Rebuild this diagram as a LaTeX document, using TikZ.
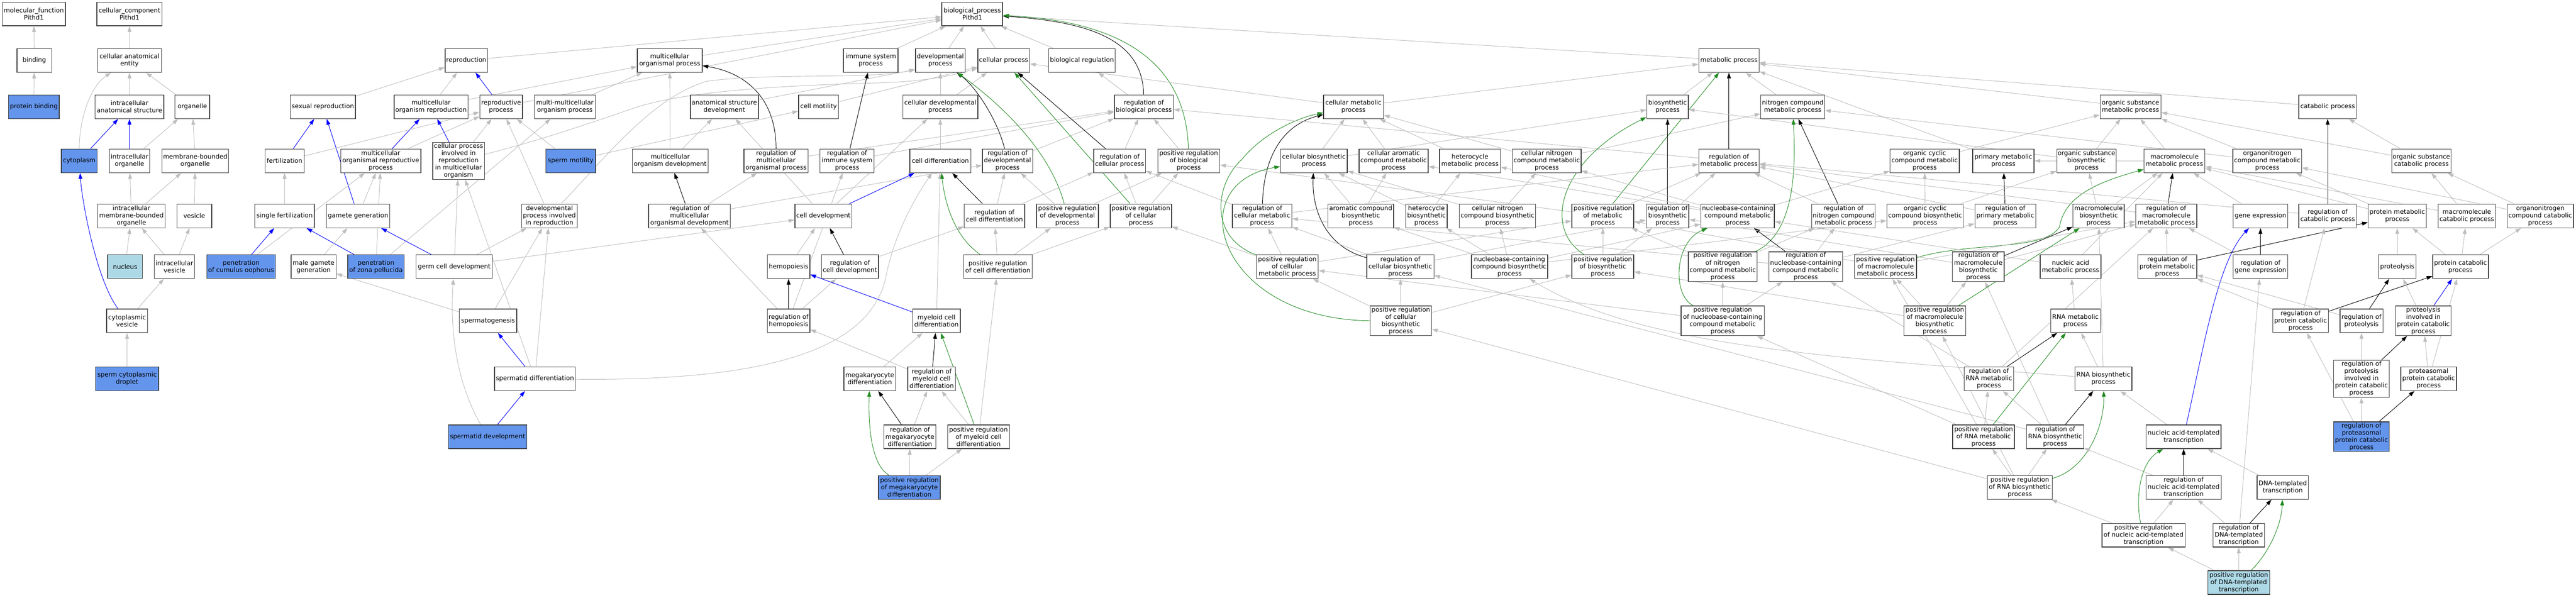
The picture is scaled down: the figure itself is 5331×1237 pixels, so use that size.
\documentclass[tikz,border=0pt]{standalone}
\usepackage{fontspec}
\setmainfont{DejaVu Sans}
\usetikzlibrary{arrows.meta}
\definecolor{edgegray}{RGB}{190,190,190}
\definecolor{boxline}{RGB}{64,64,64}
\definecolor{hiblue}{RGB}{100,149,237}
\definecolor{lightb}{RGB}{173,216,230}
\definecolor{posgreen}{RGB}{34,139,34}
\pgfdeclarelayer{bg}
\pgfsetlayers{bg,main}
\tikzset{
 gobox/.style={draw=boxline, line width=1.5pt, fill=white, rectangle, align=center, inner xsep=2pt, inner ysep=2pt, minimum height=49pt, font=\fontsize{13pt}{15pt}\selectfont},
 hib/.style={gobox, fill=hiblue},
 lob/.style={gobox, fill=lightb},
 isa/.style={draw=edgegray, line width=1pt, -{Triangle[length=12pt,width=8pt]}},
 partof/.style={isa, draw=blue},
 regl/.style={isa, draw=black},
 posr/.style={isa, draw=posgreen},
}
\newcommand\N[5][gobox]{\node[#1, minimum width=#4pt] (#2) at (#3) {#5};}
\newcommand\E[3][isa]{\draw[#1] (#2) -- (#3);}
\begin{document}
\begin{tikzpicture}[x=1pt,y=-1pt]
\begin{pgfonlayer}{bg}
\fill[white] (0,0) rectangle (5331,1237);
\end{pgfonlayer}
\useasboundingbox (0,0) rectangle (5331,1237);
% row 29
\N{mf}{70,29}{131}{molecular\_function\\Pithd1}
\N{cc}{268,29}{135}{cellular\_component\\Pithd1}
\N{bp}{2012,29}{126}{biological\_process\\Pithd1}
% row 125
\N{bind}{71,125}{72}{binding}
\N{cae}{268,125}{132}{cellular anatomical\\entity}
\N{repro}{965,125}{88}{reproduction}
\N{mop}{1386,125}{134}{multicellular\\organismal process}
\N{isp}{1802,125}{113}{immune system\\process}
\N{devp}{1946,125}{103}{developmental\\process}
\N{cellp}{2077,125}{107}{cellular process}
\N{bioreg}{2239,125}{138}{biological regulation}
\N{metab}{3578,125}{125}{metabolic process}
% row 221
\N[hib]{pbind}{70,221}{105}{protein binding}
\N{ias}{268,221}{142}{intracellular\\anatomical structure}
\N{orgn}{398,221}{72}{organelle}
\N{sexrep}{668,221}{135}{sexual reproduction}
\N{mor}{892,221}{153}{multicellular\\organism reproduction}
\N{repp}{1037,221}{88}{reproductive\\process}
\N{mmop}{1169,221}{126}{multi-multicellular\\organism process}
\N{asd}{1499,221}{141}{anatomical structure\\development}
\N{cmot}{1694,221}{83}{cell motility}
\N{cdp}{1946,221}{155}{cellular developmental\\process}
\N{rbp}{2367,221}{122}{regulation of\\biological process}
\N{cmp}{2801,221}{124}{cellular metabolic\\process}
\N{bsp}{3451,221}{86}{biosynthetic\\process}
\N{ncmp}{3710,221}{132}{nitrogen compound\\metabolic process}
\N{osmp}{4409,221}{126}{organic substance\\metabolic process}
\N{catp}{4817,221}{119}{catabolic process}
% row 333
\N[hib]{cyto}{164,333}{74}{cytoplasm}
\N{io}{268,333}{83}{intracellular\\organelle}
\N{mbo}{404,333}{138}{membrane-bounded\\organelle}
\N{fert}{589,333}{81}{fertilization}
\N{morp}{788,333}{166}{multicellular\\organismal reproductive\\process}
\N{cpir}{949,333}{107}{cellular process\\involved in\\reproduction\\in multicellular\\organism}
\N[hib]{smot}{1181,333}{103}{sperm motility}
\N{mod}{1387,333}{157}{multicellular\\organism development}
\N{rmop}{1606,333}{133}{regulation of\\multicellular\\organismal process}
\N{risp}{1753,333}{112}{regulation of\\immune system\\process}
\N{cdiff}{1946,333}{126}{cell differentiation}
\N{rdp}{2085,333}{104}{regulation of\\developmental\\process}
\N{rcp}{2317,333}{107}{regulation of\\cellular process}
\N{prbp}{2460,333}{128}{positive regulation\\of biological\\process}
\N{cbp}{2719,333}{138}{cellular biosynthetic\\process}
\N{camp}{2884,333}{143}{cellular aromatic\\compound metabolic\\process}
\N{hmp}{3042,333}{126}{heterocycle\\metabolic process}
\N{cncmp}{3201,333}{142}{cellular nitrogen\\compound metabolic\\process}
\N{rmp}{3578,333}{125}{regulation of\\metabolic process}
\N{occmp}{3983,333}{143}{organic cyclic\\compound metabolic\\process}
\N{pmp}{4146,333}{127}{primary metabolic\\process}
\N{osbp}{4318,333}{123}{organic substance\\biosynthetic\\process}
\N{mmp}{4500,333}{126}{macromolecule\\metabolic process}
\N{oncmp}{4692,333}{142}{organonitrogen\\compound metabolic\\process}
\N{oscp}{5011,333}{123}{organic substance\\catabolic process}
% row 447
\N{imbo}{272,447}{140}{intracellular\\membrane-bounded\\organelle}
\N{ves}{402,447}{72}{vesicle}
\N{sfert}{589,447}{123}{single fertilization}
\N{gg}{741,447}{131}{gamete generation}
\N{dpir}{1137,447}{115}{developmental\\process involved\\in reproduction}
\N{rmod}{1427,447}{169}{regulation of\\multicellular\\organismal development}
\N{cdev}{1704,447}{118}{cell development}
\N{rcd}{2058,447}{125}{regulation of\\cell differentiation}
\N{prdp}{2209,447}{128}{positive regulation\\of developmental\\process}
\N{prcp}{2361,447}{127}{positive regulation\\of cellular\\process}
\N{rcmp}{2612,447}{123}{regulation of\\cellular metabolic\\process}
\N{acbp}{2816,447}{136}{aromatic compound\\biosynthetic\\process}
\N{hbp}{2952,447}{86}{heterocycle\\biosynthetic\\process}
\N{cncbp}{3099,447}{158}{cellular nitrogen\\compound biosynthetic\\process}
\N{prmp}{3317,447}{128}{positive regulation\\of metabolic\\process}
\N{rbsp}{3451,447}{88}{regulation of\\biosynthetic\\process}
\N{nbcmp}{3596,447}{152}{nucleobase-containing\\compound metabolic\\process}
\N{rncmp}{3815,447}{131}{regulation of\\nitrogen compound\\metabolic process}
\N{occbp}{3984,447}{158}{organic cyclic\\compound biosynthetic\\process}
\N{rpmp}{4150,447}{126}{regulation of\\primary metabolic\\process}
\N{mbp}{4343,447}{106}{macromolecule\\biosynthetic\\process}
\N{rmmp}{4483,447}{126}{regulation of\\macromolecule\\metabolic process}
\N{gexp}{4678,447}{113}{gene expression}
\N{rcatp}{4817,447}{119}{regulation of\\catabolic process}
\N{protmp}{4961,447}{120}{protein metabolic\\process}
\N{mcatp}{5105,447}{118}{macromolecule\\catabolic process}
\N{oncatp}{5257,447}{137}{organonitrogen\\compound catabolic\\process}
% row 552
\N[lob]{nucl}{259,552}{72}{nucleus}
\N{ivs}{361,552}{83}{intracellular\\vesicle}
\N[hib]{pco}{499,552}{142}{penetration\\of cumulus oophorus}
\N{mgg}{649,552}{93}{male gamete\\generation}
\N[hib]{pzp}{778,552}{117}{penetration\\of zona pellucida}
\N{gcd}{940,552}{158}{germ cell development}
\N{hemo}{1632,552}{88}{hemopoiesis}
\N{rcdev}{1759,552}{118}{regulation of\\cell development}
\N{prcd}{2065,552}{142}{positive regulation\\of cell differentiation}
\N{prcmp}{2664,552}{128}{positive regulation\\of cellular\\metabolic process}
\N{rcbp}{2898,552}{139}{regulation of\\cellular biosynthetic\\process}
\N{nbcbp}{3124,552}{158}{nucleobase-containing\\compound biosynthetic\\process}
\N{prbsp}{3317,552}{128}{positive regulation\\of biosynthetic\\process}
\N{prncmp}{3565,552}{142}{positive regulation\\of nitrogen\\compound metabolic\\process}
\N{rnbcmp}{3737,552}{153}{regulation of\\nucleobase-containing\\compound metabolic\\process}
\N{prmmp}{3902,552}{128}{positive regulation\\of macromolecule\\metabolic process}
\N{rmbp}{4094,552}{107}{regulation of\\macromolecule\\biosynthetic\\process}
\N{namp}{4285,552}{126}{nucleic acid\\metabolic process}
\N{rprotmp}{4485,552}{122}{regulation of\\protein metabolic\\process}
\N{rgexp}{4678,552}{113}{regulation of\\gene expression}
\N{prot}{4961,552}{78}{proteolysis}
\N{pcatp}{5092,552}{115}{protein catabolic\\process}
% row 664
\N{cves}{263,664}{85}{cytoplasmic\\vesicle}
\N{sperm}{1010,664}{119}{spermatogenesis}
\N{rhemo}{1632,664}{88}{regulation of\\hemopoiesis}
\N{mcd}{1938,664}{99}{myeloid cell\\differentiation}
\N{prcbp}{2899,664}{127}{positive regulation\\of cellular\\biosynthetic\\process}
\N{prnbcmp}{3565,664}{172}{positive regulation\\of nucleobase-containing\\compound metabolic\\process}
\N{prmbp}{4004,664}{128}{positive regulation\\of macromolecule\\biosynthetic\\process}
\N{rnamp}{4295,664}{102}{RNA metabolic\\process}
\N{rpcatp}{4761,664}{115}{regulation of\\protein catabolic\\process}
\N{rprot}{4887,664}{89}{regulation of\\proteolysis}
\N{pipcp}{5015,664}{115}{proteolysis\\involved in\\protein catabolic\\process}
% row 784
\N[hib]{scd}{263,784}{131}{sperm cytoplasmic\\droplet}
\N{stdiff}{1107,784}{167}{spermatid differentiation}
\N{mkd}{1800,784}{107}{megakaryocyte\\differentiation}
\N{rmcd}{1928,784}{99}{regulation of\\myeloid cell\\differentiation}
\N{rrnamp}{4116,784}{102}{regulation of\\RNA metabolic\\process}
\N{rnabp}{4353,784}{118}{RNA biosynthetic\\process}
\N{rpipcp}{4887,784}{115}{regulation of\\proteolysis\\involved in\\protein catabolic\\process}
\N{ppcp}{5026,784}{115}{proteasomal\\protein catabolic\\process}
% row 904
\N[hib]{stdev}{1009,904}{162}{spermatid development}
\N{rmkd}{1883,904}{108}{regulation of\\megakaryocyte\\differentiation}
\N{prmcd}{2025,904}{128}{positive regulation\\of myeloid cell\\differentiation}
\N{prrnamp}{4105,904}{128}{positive regulation\\of RNA metabolic\\process}
\N{rrnabp}{4253,904}{118}{regulation of\\RNA biosynthetic\\process}
\N{nat}{4519,904}{155}{nucleic acid-templated\\transcription}
\N[hib]{rppcp}{4887,904}{115}{regulation of\\proteasomal\\protein catabolic\\process}
% row 1009
\N[hib]{prmkd}{1882,1009}{128}{positive regulation\\of megakaryocyte\\differentiation}
\N{prrnabp}{4180,1009}{134}{positive regulation\\of RNA biosynthetic\\process}
\N{rnat}{4519,1009}{156}{regulation of\\nucleic acid-templated\\transcription}
\N{dnat}{4724,1009}{106}{DNA-templated\\transcription}
% rows 1108, 1206
\N{prnat}{4436,1108}{172}{positive regulation\\of nucleic acid-templated\\transcription}
\N{rdnat}{4633,1108}{107}{regulation of\\DNA-templated\\transcription}
\N[lob]{prdnat}{4633,1206}{128}{positive regulation\\of DNA-templated\\transcription}

\begin{pgfonlayer}{bg}
% MF / CC
\E{bind}{mf} \E{pbind}{bind} \E{cae}{cc} \E{ias}{cae} \E{orgn}{cae}
\draw[isa] (cyto) .. controls (164,250) and (185,180) .. (cae);
\E[partof]{cyto}{ias} \E[partof]{io}{ias} \E{io}{orgn} \E{mbo}{orgn}
\E{imbo}{io} \E{imbo}{mbo} \E{ves}{mbo} \E{nucl}{imbo} \E{ivs}{imbo} \E{ivs}{ves}
\E{cves}{ivs}
\draw[partof] (cves) .. controls (200,580) and (170,420) .. (cyto);
\E{scd}{cves}
% top of BP
\E{repro}{bp} \E{mop}{bp} \E{isp}{bp} \E{devp}{bp} \E{cellp}{bp} \E{bioreg}{bp} \E{metab}{bp} \E{repp}{bp}
\draw[regl] (rbp) .. controls (2365,80) and (2250,45) .. (bp);
\draw[posr] (prbp) .. controls (2455,150) and (2350,45) .. (bp);
% reproduction
\E[partof]{repp}{repro} \E{mor}{repro} \E{sexrep}{repro}
\E{mor}{mop} \E{mmop}{mop} \E{mod}{mop}
\draw[regl] (rmop) .. controls (1606,200) and (1540,150) .. (mop);
\E[partof]{morp}{mor} \E[partof]{fert}{sexrep} \E[partof]{gg}{sexrep}
\E{fert}{repp} \E{morp}{repp} \E{cpir}{repp} \E{dpir}{repp} \E{smot}{repp}
\E[partof]{cpir}{mor}
\draw[isa] (cpir) .. controls (1120,290) and (1220,255) .. (1300,228) .. controls (1400,190) and (1600,178) .. (1800,172) .. controls (1900,170) and (1960,160) .. (cellp);
\E{pco}{morp} \E{pzp}{morp} \E{gg}{morp}
\E[partof]{pco}{sfert} \E[partof]{pzp}{sfert} \E{pzp}{mmop} \E{sfert}{fert}
\E{mgg}{gg} \E[partof]{gcd}{gg} \E{sperm}{mgg} \E{sperm}{dpir}
\E[partof]{stdiff}{sperm}
\draw[isa] (stdiff) .. controls (1650,790) and (1800,700) .. (1832,580) .. controls (1850,480) and (1900,400) .. (cdiff);
\E{stdiff}{dpir} \E{stdiff}{cpir}
\E[partof]{stdev}{stdiff}
\draw[isa] (stdev) .. controls (950,800) and (930,700) .. (gcd);
\E{gcd}{cpir} \E{gcd}{dpir} \E{gcd}{cdev}
\draw[isa] (dpir) .. controls (1250,330) and (1350,200) .. (1464,168) .. controls (1600,150) and (1800,165) .. (devp.200);
% development
\E{mod}{asd} \E[regl]{rmod}{mod} \E{rmod}{rmop} \E{rmod}{rdp}
\draw[isa] (asd) -- (devp.200);
\E{cmot}{cellp} \E{smot}{cmot}
\E{cdev}{asd} \E{cdev}{cdp} \E[partof]{cdev}{cdiff}
\E{hemo}{cdev} \E[regl]{rcdev}{cdev} \E{rcdev}{rcd}
\E[regl]{rhemo}{hemo} \E{rhemo}{rcdev} \E{rhemo}{risp} \E{rhemo}{rmod}
\E{rmop}{rbp} \E[regl]{risp}{isp} \E{risp}{rbp}
\E[partof]{mcd}{hemo} \E{mcd}{cdiff}
\E[regl]{rmcd}{mcd} \E{rmcd}{rhemo}
\E{mkd}{mcd} \E[regl]{rmkd}{mkd} \E{rmkd}{rmcd}
\E[posr]{prmcd}{mcd} \E{prmcd}{rmcd} \E{prmcd}{prcd}
\draw[posr] (prmkd) .. controls (1800,960) and (1797,870) .. (mkd);
\E{prmkd}{rmkd} \E{prmkd}{prmcd}
\E{cdp}{devp} \E{cdp}{cellp} \E{cdiff}{cdp}
\E{rbp}{bioreg}
\E{prbp}{rbp} \E{rcp}{rbp} \E{rdp}{rbp}
\E[regl]{rcp}{cellp}
\draw[regl] (rdp) .. controls (2065,250) and (2020,180) .. (devp);
\draw[posr] (prdp) .. controls (2170,300) and (2050,200) .. (devp);
\E[posr]{prcp}{cellp}
\E[regl]{rcd}{cdiff} \E{rcd}{rdp} \E{rcd}{rcp}
\E{prdp}{rdp} \E{prdp}{prbp} \E{prcp}{rcp} \E{prcp}{prbp}
\draw[posr] (prcd) .. controls (1975,490) and (1955,420) .. (cdiff);
\E{prcd}{rcd} \E{prcd}{prdp} \E{prcd}{prcp}
\E{rcmp}{rcp}
\draw[regl] (rcmp) .. controls (2615,330) and (2650,260) .. (cmp);
\draw[posr] (prcmp) .. controls (2500,490) and (2515,380) .. (2570,330) .. controls (2610,280) and (2680,245) .. (cmp);
\E{prcmp}{rcmp} \E{prcmp}{prcp} \E{prcmp}{prmp}
\E{rmp}{rbp} \E{prmp}{prbp}
% metabolism
\E{cmp}{cellp} \E{cmp}{metab}
\E{cbp}{cmp} \E{cbp}{bsp} \E{camp}{cmp} \E{hmp}{cmp} \E{cncmp}{cmp} \E{cncmp}{ncmp}
\E{acbp}{cbp} \E{acbp}{camp} \E{hbp}{hmp} \E{hbp}{cbp} \E{cncbp}{cncmp} \E{cncbp}{cbp}
\draw[regl] (rcbp) .. controls (2740,510) and (2715,430) .. (cbp);
\E{rcbp}{rcmp} \E{rcbp}{rbsp}
\draw[posr] (prcbp.west) .. controls (2520,660) and (2440,380) .. (cbp);
\E{prcbp}{rcbp} \E{prcbp}{prcmp} \E{prcbp}{prbsp}
\E{nbcbp}{cncbp} \E{nbcbp}{hbp} \E{nbcbp}{acbp} \E{nbcbp}{nbcmp} \E{nbcbp}{occbp}
\draw[posr] (prbsp) .. controls (3190,470) and (3230,330) .. (bsp);
\E{prbsp}{rbsp} \E{prbsp}{prmp}
\E[posr]{prmp}{metab} \E{prmp}{rmp}
\E[regl]{rbsp}{bsp} \E{rbsp}{rmp}
\E{bsp}{metab} \E[regl]{rmp}{metab} \E{ncmp}{metab} \E{pmp}{metab} \E{osmp}{metab} \E{catp}{metab}
\E{rcmp}{rmp}
\E{nbcmp}{cncmp} \E{nbcmp}{hmp} \E{nbcmp}{camp} \E{nbcmp}{occmp}
\E{occmp}{osmp} \E{osbp}{osmp} \E{osbp}{bsp} \E{mmp}{osmp} \E{mmp}{pmp} \E{oncmp}{osmp} \E{oncmp}{ncmp}
\E{oscp}{catp} \E{oscp}{osmp}
\E[regl]{rncmp}{ncmp} \E{rncmp}{rmp}
\draw[posr] (prncmp) .. controls (3720,480) and (3715,330) .. (ncmp);
\E{prncmp}{rncmp} \E{prncmp}{prmp}
\E[regl]{rnbcmp}{nbcmp} \E{rnbcmp}{rncmp} \E{rnbcmp}{rcmp} \E{rnbcmp}{rpmp}
\draw[posr] (prmmp) .. controls (4080,500) and (4230,520) .. (4262,470) .. controls (4272,410) and (4330,380) .. (mmp);
\E{prmmp}{rmmp} \E{prmmp}{prmp}
\E[regl]{rmbp}{mbp} \E{rmbp}{rmmp} \E{rmbp}{rbsp}
\E{mbp}{mmp} \E{mbp}{osbp}
\E[regl]{rpmp}{pmp} \E{rpmp}{rmp}
\E{occbp}{occmp} \E{occbp}{osbp}
\E{namp}{nbcmp} \E{namp}{mmp}
\E[regl]{rmmp}{mmp} \E{rmmp}{rmp}
\E{gexp}{mmp} \E[regl]{rgexp}{gexp} \E{rgexp}{rmmp}
\draw[partof] (nat) .. controls (4560,720) and (4590,540) .. (gexp);
\E[regl]{rcatp}{catp} \E{rcatp}{rmp}
\E{protmp}{mmp} \E{protmp}{oncmp}
\E{mcatp}{mmp} \E{mcatp}{oscp}
\E{oncatp}{oncmp} \E{oncatp}{oscp}
\E[regl]{rprotmp}{protmp} \E{rprotmp}{rmmp}
\E{prot}{protmp}
\E{pcatp}{protmp} \E{pcatp}{mcatp} \E{pcatp}{oncatp}
\E[regl]{rpcatp}{pcatp} \E{rpcatp}{rprotmp} \E{rpcatp}{rcatp}
\E[regl]{rprot}{prot} \E{rprot}{rprotmp}
\E[partof]{pipcp}{pcatp} \E{pipcp}{prot}
\E{rpipcp}{rprot} \E[regl]{rpipcp}{pipcp}
\E{ppcp}{pipcp} \E{ppcp}{pcatp}
\E[regl]{rppcp}{ppcp} \E{rppcp}{rpipcp} \E{rppcp}{rpcatp}
% RNA / transcription
\E{rnamp}{namp}
\E{rnabp}{rnamp} \E{rnabp}{mbp}
\draw[isa] (rnabp) .. controls (3800,740) and (3400,720) .. (nbcbp);
\E[regl]{rrnamp}{rnamp} \E{rrnamp}{rnbcmp} \E{rrnamp}{rmmp}
\E[regl]{rrnabp}{rnabp} \E{rrnabp}{rrnamp} \E{rrnabp}{rmbp} \E{rrnabp}{rcbp}
\E[posr]{prrnamp}{rnamp} \E{prrnamp}{rrnamp} \E{prrnamp}{prmmp} \E{prrnamp}{prnbcmp}
\draw[posr] (prrnabp) .. controls (4320,970) and (4355,880) .. (rnabp);
\E{prrnabp}{rrnabp} \E{prrnabp}{prrnamp} \E{prrnabp}{prmbp} \E{prrnabp}{prcbp}
\E[posr]{prmbp}{mbp} \E{prmbp}{prmmp} \E{prmbp}{rmbp} \E{prmbp}{prbsp}
\draw[posr] (prnbcmp) .. controls (3460,610) and (3465,500) .. (nbcmp);
\E{prnbcmp}{rnbcmp} \E{prnbcmp}{prncmp} \E{prnbcmp}{prcmp}
\E{nat}{rnabp} \E[regl]{rnat}{nat} \E{rnat}{rrnabp}
\E{dnat}{nat} \E[regl]{rdnat}{dnat} \E{rdnat}{rnat} \E{rdnat}{rgexp}
\draw[posr] (prnat) .. controls (4420,1040) and (4425,960) .. (nat);
\E{prnat}{rnat} \E{prnat}{prrnabp}
\draw[posr] (prdnat) .. controls (4700,1140) and (4722,1080) .. (dnat);
\E{prdnat}{rdnat} \E{prdnat}{prnat}
\end{pgfonlayer}
\end{tikzpicture}
\end{document}
